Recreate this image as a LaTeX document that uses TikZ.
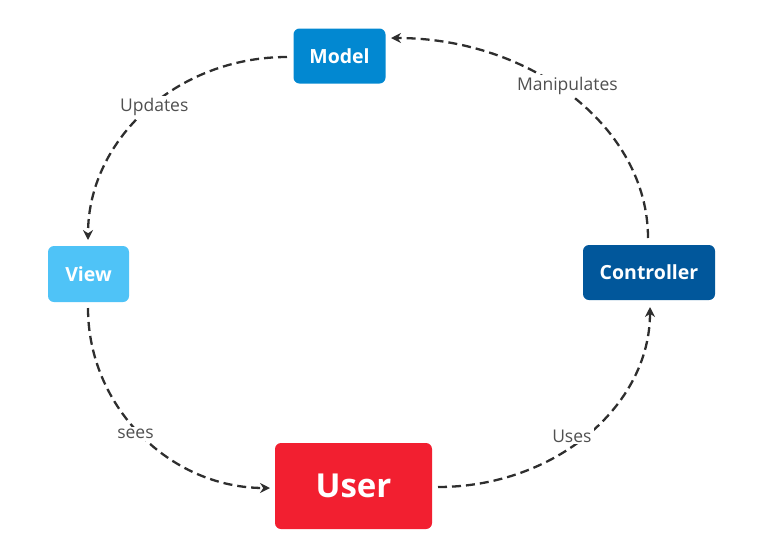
\documentclass[tikz,border=0pt]{standalone}
\usepackage{fontspec}
\setmainfont{Open Sans}
\usetikzlibrary{arrows.meta}
\definecolor{modelc}{HTML}{0288D1}
\definecolor{viewc}{HTML}{4FC3F7}
\definecolor{ctrlc}{HTML}{01579B}
\definecolor{userc}{HTML}{F21F30}
\definecolor{linec}{HTML}{2E2E2E}
\definecolor{labelc}{HTML}{505050}
\tikzset{
  box/.style={rounded corners=6pt, inner sep=0pt, text=white, font=\bfseries\fontsize{19.5}{22}\selectfont},
  flow/.style={draw=linec, line width=2.3pt, dash pattern=on 9pt off 5pt, -{Stealth[length=10pt,width=10pt]}},
  lbl/.style={fill=white, text=labelc, font=\fontsize{17.5}{20}\selectfont, inner sep=2pt}
}
\begin{document}
\begin{tikzpicture}[x=1pt,y=-1pt]
\useasboundingbox (0,0) rectangle (764,558);
\node[box, fill=modelc, minimum width=92pt, minimum height=55pt] (model) at (339.5,56) {Model};
\node[box, fill=viewc, minimum width=81pt, minimum height=56pt] (view) at (88.5,274) {View};
\node[box, fill=ctrlc, minimum width=132pt, minimum height=55pt] (ctrl) at (649,272.5) {Controller};
\node[box, fill=userc, minimum width=157pt, minimum height=86pt, font=\bfseries\fontsize{33}{38}\selectfont] (user) at (353.5,486) {User};
\coordinate (m1) at (287,57);
\coordinate (v1) at (88,240);
\coordinate (v2) at (88,308);
\coordinate (u1) at (270,488);
\coordinate (u2) at (438,487);
\coordinate (c1) at (650,307);
\coordinate (c2) at (648,238);
\coordinate (m2) at (391,38);
\draw[flow] (m1) .. controls (177,57) and (88,139) .. node[lbl, pos=0.5, xshift=8pt, yshift=4pt] {Updates} (v1);
\draw[flow] (v2) .. controls (88,407) and (170,488) .. node[lbl, pos=0.5, xshift=-6pt, yshift=1pt] {sees} (u1);
\draw[flow] (u2) .. controls (555,487) and (650,406) .. node[lbl, pos=0.5, xshift=-16pt, yshift=-2pt] {Uses} (c1);
\draw[flow] (c2) .. controls (648,128) and (532,38) .. node[lbl, pos=0.5, xshift=-5pt, yshift=11pt] {Manipulates} (m2);
\end{tikzpicture}
\end{document}
